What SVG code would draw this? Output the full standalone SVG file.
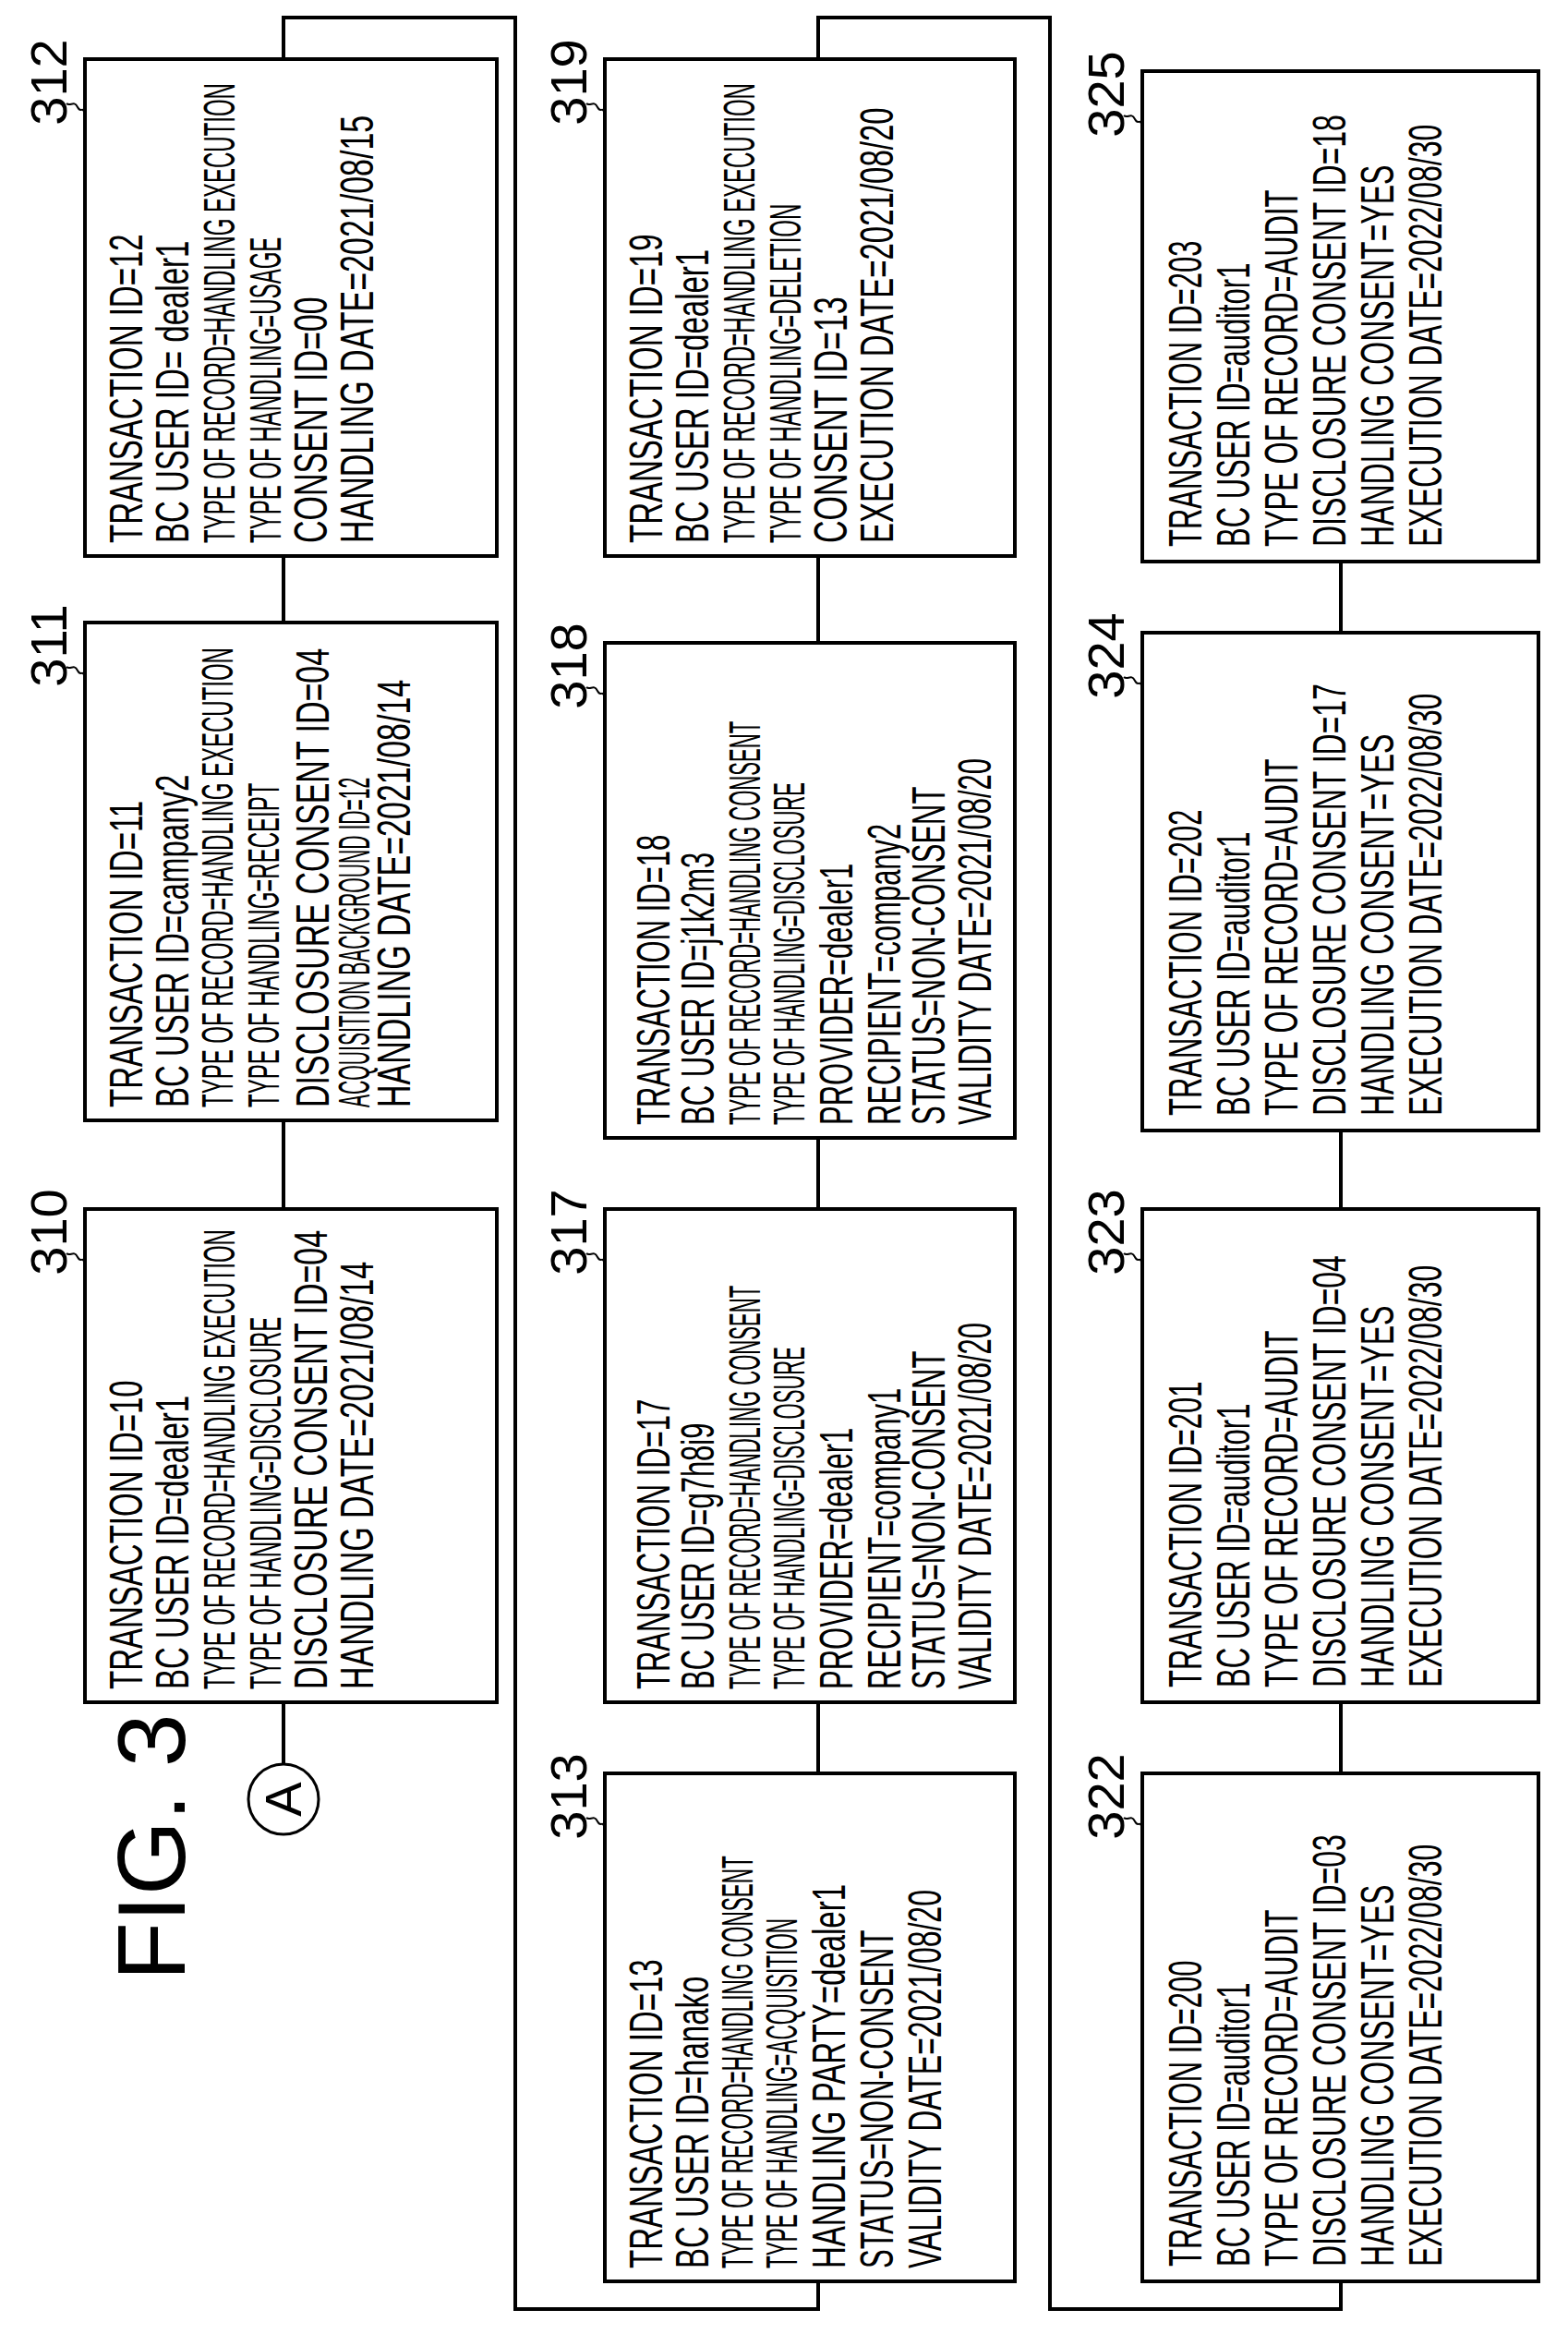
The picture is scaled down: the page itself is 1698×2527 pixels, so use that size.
<svg xmlns="http://www.w3.org/2000/svg" width="1698" height="2527" viewBox="0 0 1698 2527">
<style>
rect.box{fill:#fff;stroke:#000;stroke-width:4}
.c{fill:none;stroke:#000;stroke-width:4}
.t{fill:none;stroke:#000;stroke-width:2}
text{font-family:"Liberation Sans",Arial,sans-serif;fill:#000}
.b{font-size:50px}
.s{font-size:48px}
.lbl{font-size:56px}
</style>
<rect width="1698" height="2527" fill="#fff"/>
<g id="connectors">
<polyline class="c" points="307,64 307,19 558,19 558,2500 886,2500 886,2470"/>
<polyline class="c" points="886,64 886,19 1137,19 1137,2500 1452,2500 1452,2470"/>
<line class="c" x1="307" y1="602" x2="307" y2="674"/>
<line class="c" x1="307" y1="1213" x2="307" y2="1309"/>
<line class="c" x1="307" y1="1843" x2="307" y2="1910"/>
<line class="c" x1="886" y1="602" x2="886" y2="696"/>
<line class="c" x1="886" y1="1232" x2="886" y2="1309"/>
<line class="c" x1="886" y1="1843" x2="886" y2="1920"/>
<line class="c" x1="1452" y1="608" x2="1452" y2="685"/>
<line class="c" x1="1452" y1="1224" x2="1452" y2="1309"/>
<line class="c" x1="1452" y1="1843" x2="1452" y2="1920"/>
</g>
<g id="title"><text transform="translate(200,2000) rotate(-90)" text-anchor="middle" font-size="104">FIG. 3</text></g>
<g id="nodeA"><circle cx="307" cy="1948" r="38" fill="#fff" stroke="#000" stroke-width="3"/><text transform="translate(326,1948) rotate(-90)" text-anchor="middle" font-size="56">A</text></g>

<g id="n310" transform="translate(92,1843) rotate(-90)">
<rect class="box" width="534" height="446"/>
<text class="lbl" transform="translate(509,-20)" text-anchor="middle">310</text>
<path class="t" d="M486,-20 c-4,4 4,8 -4,12 s4,6 -10,8"/>
<text class="b" transform="translate(14,62) scale(0.66,1)">TRANSACTION ID=10</text>
<text class="b" transform="translate(14,112) scale(0.66,1)">BC USER ID=dealer1</text>
<text class="s" transform="translate(14,162) scale(0.5,1)">TYPE OF RECORD=HANDLING EXECUTION</text>
<text class="s" transform="translate(14,212) scale(0.5,1)">TYPE OF HANDLING=DISCLOSURE</text>
<text class="b" transform="translate(14,262) scale(0.68,1)">DISCLOSURE CONSENT ID=04</text>
<text class="b" transform="translate(14,312) scale(0.68,1)">HANDLING DATE=2021/08/14</text>
</g>
<g id="n311" transform="translate(92,1213) rotate(-90)">
<rect class="box" width="539" height="446"/>
<text class="lbl" transform="translate(514,-20)" text-anchor="middle">311</text>
<path class="t" d="M491,-20 c-4,4 4,8 -4,12 s4,6 -10,8"/>
<text class="b" transform="translate(14,62) scale(0.66,1)">TRANSACTION ID=11</text>
<text class="b" transform="translate(14,112) scale(0.66,1)">BC USER ID=campany2</text>
<text class="s" transform="translate(14,160) scale(0.5,1)">TYPE OF RECORD=HANDLING EXECUTION</text>
<text class="s" transform="translate(14,210) scale(0.5,1)">TYPE OF HANDLING=RECEIPT</text>
<text class="b" transform="translate(14,264) scale(0.68,1)">DISCLOSURE CONSENT ID=04</text>
<text class="s" transform="translate(14,308) scale(0.44,1)">ACQUISITION BACKGROUND ID=12</text>
<text class="b" transform="translate(14,352) scale(0.68,1)">HANDLING DATE=2021/08/14</text>
</g>
<g id="n312" transform="translate(92,602) rotate(-90)">
<rect class="box" width="538" height="446"/>
<text class="lbl" transform="translate(513,-20)" text-anchor="middle">312</text>
<path class="t" d="M490,-20 c-4,4 4,8 -4,12 s4,6 -10,8"/>
<text class="b" transform="translate(14,62) scale(0.66,1)">TRANSACTION ID=12</text>
<text class="b" transform="translate(14,112) scale(0.66,1)">BC USER ID= dealer1</text>
<text class="s" transform="translate(14,162) scale(0.5,1)">TYPE OF RECORD=HANDLING EXECUTION</text>
<text class="s" transform="translate(14,212) scale(0.5,1)">TYPE OF HANDLING=USAGE</text>
<text class="b" transform="translate(14,262) scale(0.68,1)">CONSENT ID=00</text>
<text class="b" transform="translate(14,312) scale(0.68,1)">HANDLING DATE=2021/08/15</text>
</g>

<g id="n313" transform="translate(655,2470) rotate(-90)">
<rect class="box" width="550" height="444"/>
<text class="lbl" transform="translate(525,-20)" text-anchor="middle">313</text>
<path class="t" d="M502,-20 c-4,4 4,8 -4,12 s4,6 -10,8"/>
<text class="b" transform="translate(14,62) scale(0.66,1)">TRANSACTION ID=13</text>
<text class="b" transform="translate(14,112) scale(0.66,1)">BC USER ID=hanako</text>
<text class="s" transform="translate(14,160) scale(0.47,1)">TYPE OF RECORD=HANDLING CONSENT</text>
<text class="s" transform="translate(14,208) scale(0.47,1)">TYPE OF HANDLING=ACQUISITION</text>
<text class="b" transform="translate(14,260) scale(0.66,1)">HANDLING PARTY=dealer1</text>
<text class="b" transform="translate(14,312) scale(0.62,1)">STATUS=NON-CONSENT</text>
<text class="b" transform="translate(14,364) scale(0.64,1)">VALIDITY DATE=2021/08/20</text>
</g>
<g id="n317" transform="translate(655,1843) rotate(-90)">
<rect class="box" width="534" height="444"/>
<text class="lbl" transform="translate(509,-20)" text-anchor="middle">317</text>
<path class="t" d="M486,-20 c-4,4 4,8 -4,12 s4,6 -10,8"/>
<text class="b" transform="translate(14,70) scale(0.62,1)">TRANSACTION ID=17</text>
<text class="b" transform="translate(14,118) scale(0.62,1)">BC USER ID=g7h8i9</text>
<text class="s" transform="translate(14,168) scale(0.46,1)">TYPE OF RECORD=HANDLING CONSENT</text>
<text class="s" transform="translate(14,216) scale(0.46,1)">TYPE OF HANDLING=DISCLOSURE</text>
<text class="b" transform="translate(14,268) scale(0.62,1)">PROVIDER=dealer1</text>
<text class="b" transform="translate(14,320) scale(0.62,1)">RECIPIENT=company1</text>
<text class="b" transform="translate(14,368) scale(0.62,1)">STATUS=NON-CONSENT</text>
<text class="b" transform="translate(14,418) scale(0.62,1)">VALIDITY DATE=2021/08/20</text>
</g>
<g id="n318" transform="translate(655,1232) rotate(-90)">
<rect class="box" width="536" height="444"/>
<text class="lbl" transform="translate(511,-20)" text-anchor="middle">318</text>
<path class="t" d="M488,-20 c-4,4 4,8 -4,12 s4,6 -10,8"/>
<text class="b" transform="translate(14,70) scale(0.62,1)">TRANSACTION ID=18</text>
<text class="b" transform="translate(14,118) scale(0.62,1)">BC USER ID=j1k2m3</text>
<text class="s" transform="translate(14,168) scale(0.46,1)">TYPE OF RECORD=HANDLING CONSENT</text>
<text class="s" transform="translate(14,216) scale(0.46,1)">TYPE OF HANDLING=DISCLOSURE</text>
<text class="b" transform="translate(14,268) scale(0.62,1)">PROVIDER=dealer1</text>
<text class="b" transform="translate(14,320) scale(0.62,1)">RECIPIENT=company2</text>
<text class="b" transform="translate(14,368) scale(0.62,1)">STATUS=NON-CONSENT</text>
<text class="b" transform="translate(14,418) scale(0.62,1)">VALIDITY DATE=2021/08/20</text>
</g>
<g id="n319" transform="translate(655,602) rotate(-90)">
<rect class="box" width="538" height="444"/>
<text class="lbl" transform="translate(513,-20)" text-anchor="middle">319</text>
<path class="t" d="M490,-20 c-4,4 4,8 -4,12 s4,6 -10,8"/>
<text class="b" transform="translate(14,62) scale(0.66,1)">TRANSACTION ID=19</text>
<text class="b" transform="translate(14,112) scale(0.66,1)">BC USER ID=dealer1</text>
<text class="s" transform="translate(14,162) scale(0.5,1)">TYPE OF RECORD=HANDLING EXECUTION</text>
<text class="s" transform="translate(14,212) scale(0.5,1)">TYPE OF HANDLING=DELETION</text>
<text class="b" transform="translate(14,262) scale(0.68,1)">CONSENT ID=13</text>
<text class="b" transform="translate(14,312) scale(0.66,1)">EXECUTION DATE=2021/08/20</text>
</g>

<g id="n322" transform="translate(1237,2470) rotate(-90)">
<rect class="box" width="550" height="429"/>
<text class="lbl" transform="translate(525,-20)" text-anchor="middle">322</text>
<path class="t" d="M502,-20 c-4,4 4,8 -4,12 s4,6 -10,8"/>
<text class="b" transform="translate(16,64) scale(0.62,1)">TRANSACTION ID=200</text>
<text class="b" transform="translate(16,116) scale(0.62,1)">BC USER ID=auditor1</text>
<text class="b" transform="translate(16,168) scale(0.62,1)">TYPE OF RECORD=AUDIT</text>
<text class="b" transform="translate(16,220) scale(0.64,1)">DISCLOSURE CONSENT ID=03</text>
<text class="b" transform="translate(16,272) scale(0.64,1)">HANDLING CONSENT=YES</text>
<text class="b" transform="translate(16,324) scale(0.64,1)">EXECUTION DATE=2022/08/30</text>
</g>
<g id="n323" transform="translate(1237,1843) rotate(-90)">
<rect class="box" width="534" height="429"/>
<text class="lbl" transform="translate(509,-20)" text-anchor="middle">323</text>
<path class="t" d="M486,-20 c-4,4 4,8 -4,12 s4,6 -10,8"/>
<text class="b" transform="translate(16,64) scale(0.62,1)">TRANSACTION ID=201</text>
<text class="b" transform="translate(16,116) scale(0.62,1)">BC USER ID=auditor1</text>
<text class="b" transform="translate(16,168) scale(0.62,1)">TYPE OF RECORD=AUDIT</text>
<text class="b" transform="translate(16,220) scale(0.64,1)">DISCLOSURE CONSENT ID=04</text>
<text class="b" transform="translate(16,272) scale(0.64,1)">HANDLING CONSENT=YES</text>
<text class="b" transform="translate(16,324) scale(0.64,1)">EXECUTION DATE=2022/08/30</text>
</g>
<g id="n324" transform="translate(1237,1224) rotate(-90)">
<rect class="box" width="539" height="429"/>
<text class="lbl" transform="translate(514,-20)" text-anchor="middle">324</text>
<path class="t" d="M491,-20 c-4,4 4,8 -4,12 s4,6 -10,8"/>
<text class="b" transform="translate(16,64) scale(0.62,1)">TRANSACTION ID=202</text>
<text class="b" transform="translate(16,116) scale(0.62,1)">BC USER ID=auditor1</text>
<text class="b" transform="translate(16,168) scale(0.62,1)">TYPE OF RECORD=AUDIT</text>
<text class="b" transform="translate(16,220) scale(0.64,1)">DISCLOSURE CONSENT ID=17</text>
<text class="b" transform="translate(16,272) scale(0.64,1)">HANDLING CONSENT=YES</text>
<text class="b" transform="translate(16,324) scale(0.64,1)">EXECUTION DATE=2022/08/30</text>
</g>
<g id="n325" transform="translate(1237,608) rotate(-90)">
<rect class="box" width="531" height="429"/>
<text class="lbl" transform="translate(506,-20)" text-anchor="middle">325</text>
<path class="t" d="M483,-20 c-4,4 4,8 -4,12 s4,6 -10,8"/>
<text class="b" transform="translate(16,64) scale(0.62,1)">TRANSACTION ID=203</text>
<text class="b" transform="translate(16,116) scale(0.62,1)">BC USER ID=auditor1</text>
<text class="b" transform="translate(16,168) scale(0.62,1)">TYPE OF RECORD=AUDIT</text>
<text class="b" transform="translate(16,220) scale(0.64,1)">DISCLOSURE CONSENT ID=18</text>
<text class="b" transform="translate(16,272) scale(0.64,1)">HANDLING CONSENT=YES</text>
<text class="b" transform="translate(16,324) scale(0.64,1)">EXECUTION DATE=2022/08/30</text>
</g>
</svg>
